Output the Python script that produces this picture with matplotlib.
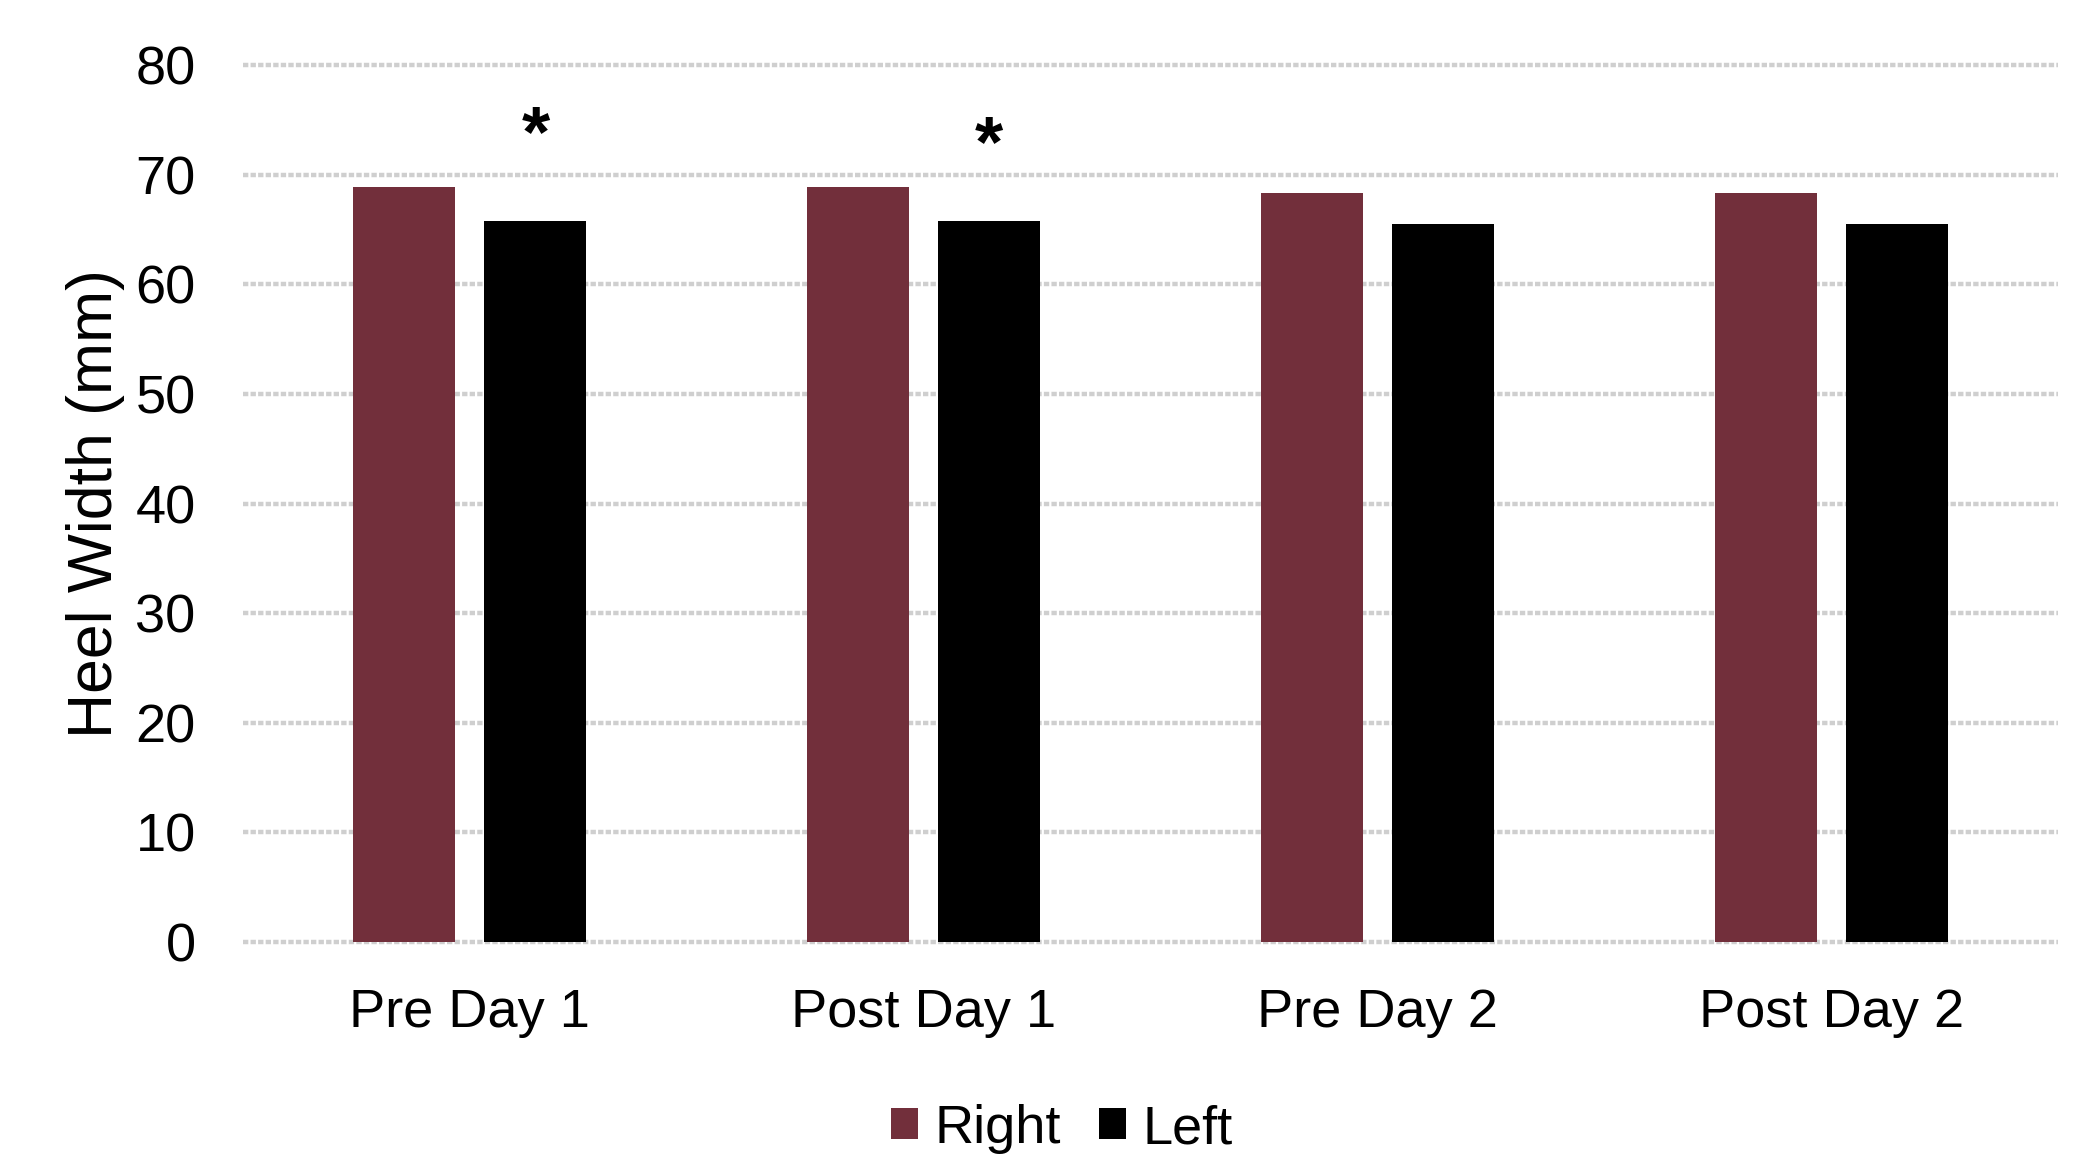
import numpy as np
import matplotlib
matplotlib.use("Agg")
import matplotlib.pyplot as plt

plt.rcParams['font.family'] = ['Liberation Sans', 'DejaVu Sans']

# data
categories = ['Pre Day 1', 'Post Day 1', 'Pre Day 2', 'Post Day 2']
right = [68.9, 68.9, 68.3, 68.3]
left = [65.8, 65.8, 65.5, 65.5]
star_cats = [0, 1]
star_y = [73.4, 72.5]

right_col = '#722F3B'
left_col = '#000000'

fig = plt.figure(figsize=(20.82, 11.61), dpi=100)
ax = fig.add_axes([0.1167, 0.1886, 0.8718, 0.7554])

x = np.arange(len(categories))
w = 0.225
off = 0.1445

ax.bar(x - off, right, width=w, color=right_col, label='Right', zorder=3)
ax.bar(x + off, left, width=w, color=left_col, label='Left', zorder=3)

for c, yy in zip(star_cats, star_y):
    ax.text(c + off, yy, '*', ha='center', va='center', fontsize=52,
            fontweight='bold', color='black')

ax.set_xlim(-0.5, 3.5)
ax.set_ylim(0, 80)
ax.set_yticks(np.arange(0, 81, 10))
ax.set_xticks(x)
ax.set_xticklabels(categories)

# dotted light grey gridlines, including the one at zero
for t in np.arange(0, 81, 10):
    ax.axhline(t, color='#cfcfcf', lw=3.2, linestyle=(0, (1.2, 0.5)), zorder=1,
               clip_on=False)

for s in ax.spines.values():
    s.set_visible(False)
ax.tick_params(axis='both', length=0, labelsize=39)
ax.tick_params(axis='y', pad=34)
ax.tick_params(axis='x', pad=33)

ax.set_ylabel('Heel Width (mm)', fontsize=45)
ax.yaxis.set_label_coords(-0.065, 0.5)

fig.legend(loc='lower center', bbox_to_anchor=(0.51, -0.036), ncol=2,
           frameon=False, fontsize=39, handlelength=0.5, handleheight=0.5,
           handletextpad=0.3, columnspacing=0.7)

fig.savefig('out.png', dpi=100)
